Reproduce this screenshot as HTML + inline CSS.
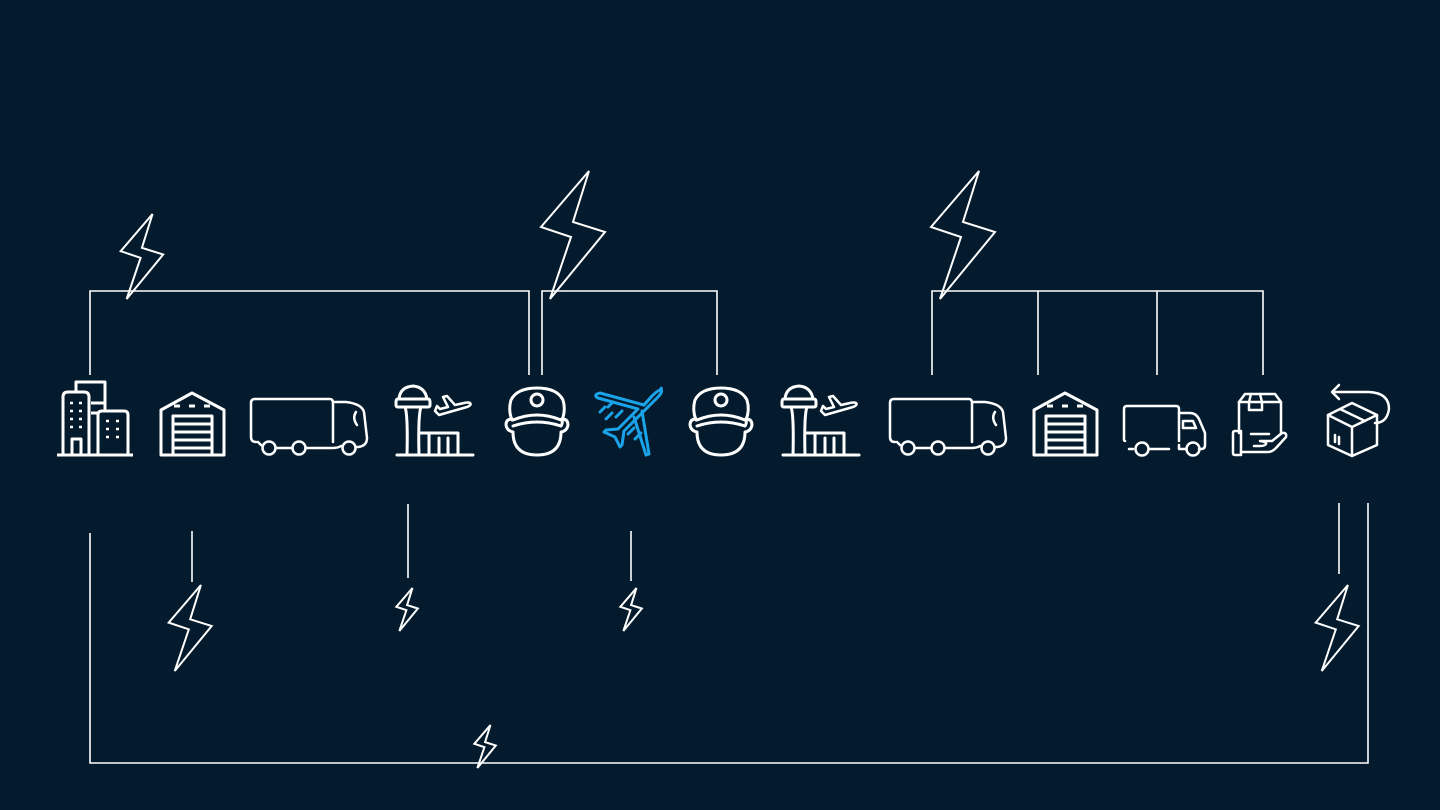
<!DOCTYPE html>
<html><head><meta charset="utf-8"><style>
html,body{margin:0;padding:0;background:#041b2d;}
svg{display:block}
</style></head><body>
<svg width="1440" height="810" viewBox="0 0 1440 810" xmlns="http://www.w3.org/2000/svg">
<rect width="1440" height="810" fill="#041b2d"/>
<defs>
  <path id="bolt" d="M49,0 L1,56 L31,66 L10,128 L65,61 L33,51 Z" fill="none" stroke="#fff" stroke-width="2" vector-effect="non-scaling-stroke" stroke-linejoin="miter"/>
  <g id="buildings" fill="none" stroke="#fff" stroke-width="3" stroke-linejoin="round">
    <path d="M19,11 V1 H48 V30"/><path d="M34,22 H48 M34,32 H41"/>
    <path d="M6,74 V16 Q6,11 11,11 H27 Q32,11 32,16 V74"/>
    <path d="M41,74 V34 Q41,30 45,30 H67 Q71,30 71,34 V74"/>
    <path d="M15,74 V58 H24 V74"/>
    <path d="M0,74 H76"/>
    <g stroke-width="2.5"><path d="M13,22h3M22,22h3M13,30h3M22,30h3M13,38h3M22,38h3M13,46h3M22,46h3M49,40h3M59,40h3M49,48h3M59,48h3M49,56h3M59,56h3"/></g>
  </g>
  <g id="warehouse" fill="none" stroke="#fff" stroke-width="3" stroke-linejoin="round">
    <path d="M1,18 L32,1 L64,18 V63 H1 Z"/>
    <path d="M13,63 V24 H52 V63 M13,32 H52 M13,40 H52 M13,48 H52 M13,56 H52"/>
    <path d="M14,14 h6 M29,14 h6 M44,14 h6"/>
  </g>
  <g id="bigtruck" fill="none" stroke="#fff" stroke-width="2.5" stroke-linejoin="round" stroke-linecap="round">
    <path d="M6,44 Q1,44 1,39 V5 Q1,1 5,1 H80 Q83,1 83,5 V44"/>
    <path d="M83,4 H96 Q112,6 114,14 L117,40 Q117,48 108,49 H106"/>
    <path d="M106,14 Q102,20 107,27"/>
    <circle cx="19" cy="50" r="6.5"/><circle cx="49" cy="50" r="6.5"/><circle cx="99" cy="50" r="6.5"/>
    <path d="M26,50 H42 M56,50 H82 Q88,50 91,48"/>
    <path d="M8,44 L11,47"/>
  </g>
  <g id="tower" fill="none" stroke="#fff" stroke-width="3" stroke-linejoin="round" stroke-linecap="round">
    <path d="M4,14 Q5,2 18,1 Q30,2 32,14 Z"/>
    <path d="M3,14 H33 Q35,14 35,17 V20 Q35,22 33,22 H3 Q1,22 1,20 V17 Q1,14 3,14 Z"/>
    <path d="M10,22 Q13,30 12,70 M26,22 Q23,30 24,70"/>
    <path d="M24,48 H63 V70 M34,50 V70 M44,53 V70 M53,53 V70"/>
    <path d="M2,70 H78"/>
    <path d="M40,26 L44,30 L72,22 Q77,20 75,18 Q73,17 69,18 L60,20 L52,11 L48,12 L53,22 L45,24 L42,21 Z" stroke-width="2.5"/>
  </g>
  <g id="worker" fill="none" stroke-width="3" stroke-linejoin="round" stroke-linecap="round">
    <path d="M7,32 Q3,22 6,12 Q12,0 32,0 Q52,0 58,12 Q61,22 57,32"/>
    <circle cx="32" cy="12" r="6"/>
    <path d="M8,32 Q32,22 56,32"/>
    <path d="M7,31 Q1,31 1,37 Q2,43 8,44 Q8,67 32,67 Q56,67 56,44 Q62,43 63,37 Q63,31 57,31"/>
    <path d="M8,38 Q32,30 56,38 Q58,35 57,31"/>
  </g>
  <g id="plane" fill="none" stroke="#1aa3e8" stroke-width="3" stroke-linejoin="round" stroke-linecap="round">
    <path d="M66,3 Q68,0 67,2 Q69,5 64,10 L30,44 L28,58 L26,60 L21,50 L10,45 L12,43 L24,42 L44,22 L4,11 Q0,9 3,7 L6,6 L50,18 L58,9 Q63,4 66,3 Z"/>
    <path d="M50,18 L58,9 M40,30 L52,68 L55,67 L48,24"/>
    <path d="M6,25 L11,20 M12,32 L18,26 M14,20 L19,15 M22,30 L28,24 M34,47 L40,41 M41,52 L47,46"/>
  </g>
  <g id="smalltruck" fill="none" stroke="#fff" stroke-width="2.5" stroke-linejoin="round" stroke-linecap="round">
    <path d="M2,36 Q1,36 1,34 V4 Q1,1 4,1 H53 Q56,1 56,4 V36"/>
    <path d="M56,8 H67 Q73,8 76,14 L82,28 V40 Q82,44 78,44 H76"/>
    <path d="M60,16 H70 L73,23 H60 Z"/>
    <circle cx="19" cy="44" r="6.5"/><circle cx="70" cy="44" r="6.5"/>
    <path d="M26,44 H46 M56,40 V44 H63 M6,44 h4"/>
  </g>
  <g id="handbox" fill="none" stroke="#fff" stroke-width="2.5" stroke-linejoin="round" stroke-linecap="round">
    <path d="M7,9 L13,1 H43 L49,9 V40"/><path d="M7,9 V40"/>
    <path d="M7,9 H49"/><path d="M19,1 L17,9 V17 H30 V9 L28,1"/>
    <path d="M19,41 H37"/>
    <path d="M3,38 H9 V62 H3 Q1,62 1,60 V40 Q1,38 3,38 Z"/>
    <path d="M9,59 H36 Q40,59 44,55 L54,44 Q55,39 50,40 L40,48 H28 Q35,49 34,51 Q33,53 28,53 H22"/>
  </g>
  <g id="returnbox" fill="none" stroke="#fff" stroke-width="2.5" stroke-linejoin="round" stroke-linecap="round">
    <path d="M3,32 L27,20 L52,32 V62 L27,73 L3,62 Z"/>
    <path d="M3,32 L27,44 L52,32 M27,44 V73"/>
    <path d="M15,26 L40,38"/>
    <path d="M10,52 V59 M14,54 V61"/>
    <path d="M9,9 H44 Q64,10 64,26 Q62,40 50,40"/>
    <path d="M14,2 L7,9 L14,16"/>
  </g>
</defs>

<g fill="none" stroke="#fff" stroke-width="1.6">
  <path d="M90,375 V291 H529 V375"/>
  <path d="M542,375 V291 H717 V375"/>
  <path d="M932,375 V291 H1263 V375 M1038,291 V375 M1157,291 V375"/>
  <path d="M90,533 V763 H1368 V503"/>
  <path d="M192,531 V582"/>
  <path d="M408,504 V578"/>
  <path d="M631,531 V581"/>
  <path d="M1339,503 V574"/>
</g>

<use href="#bolt" transform="translate(120,214) scale(0.664)"/>
<use href="#bolt" transform="translate(540,171)"/>
<use href="#bolt" transform="translate(930,171)"/>
<use href="#bolt" transform="translate(168,585) scale(0.672)"/>
<use href="#bolt" transform="translate(396,588) scale(0.336)"/>
<use href="#bolt" transform="translate(620,588) scale(0.336)"/>
<use href="#bolt" transform="translate(1315,585) scale(0.672)"/>
<use href="#bolt" transform="translate(474,725) scale(0.336)"/>

<use href="#buildings" transform="translate(57,381)"/>
<use href="#warehouse" transform="translate(160,392)"/>
<use href="#bigtruck" transform="translate(250,398)"/>
<use href="#tower" transform="translate(395,385)"/>
<use href="#worker" transform="translate(505,388)" stroke="#fff"/>
<use href="#plane" transform="translate(594,387)"/>
<use href="#worker" transform="translate(689,388)" stroke="#fff"/>
<use href="#tower" transform="translate(781,385)"/>
<use href="#bigtruck" transform="translate(889,398)"/>
<use href="#warehouse" transform="translate(1033,392)"/>
<use href="#smalltruck" transform="translate(1123,405)"/>
<use href="#handbox" transform="translate(1232,393)"/>
<use href="#returnbox" transform="translate(1325,383)"/>
</svg>
</body></html>
